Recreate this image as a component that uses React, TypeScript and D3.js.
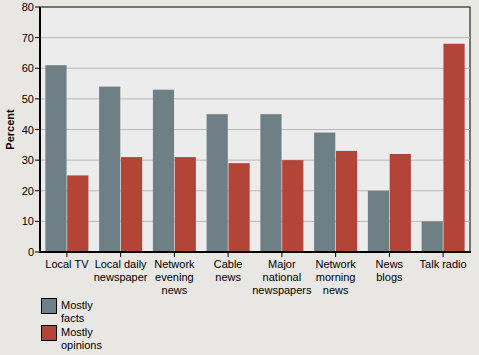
import React from "react";
import * as d3 from "d3";

const categories = [
  ["Local TV"],
  ["Local daily", "newspaper"],
  ["Network", "evening", "news"],
  ["Cable", "news"],
  ["Major", "national", "newspapers"],
  ["Network", "morning", "news"],
  ["News", "blogs"],
  ["Talk radio"],
];
const mostlyFacts = [61, 54, 53, 45, 45, 39, 20, 10];
const mostlyOpinions = [25, 31, 31, 29, 30, 33, 32, 68];
const yTicks = [0, 10, 20, 30, 40, 50, 60, 70, 80];
const seriesNames = [["Mostly", "facts"], ["Mostly", "opinions"]];
const colors = ["#6E7F86", "#B34438"];

export default function App() {
  const W = 479, H = 355;
  const left = 40, right = 470, top = 7, bottom = 252;
  const font = "'Liberation Sans', Arial, sans-serif";
  const idx = categories.map((_, i) => String(i));
  const x = d3.scaleBand().domain(idx).range([left, right]).paddingInner(0.2).paddingOuter(0.1);
  const x1 = d3.scaleBand().domain(["0", "1"]).range([0, x.bandwidth()]).paddingInner(0.03);
  const y = d3.scaleLinear().domain([0, 80]).range([bottom, top]);
  const series = [mostlyFacts, mostlyOpinions];
  const step = (right - left) / categories.length;

  return (
    <svg width={W} height={H} style={{ position: "absolute", left: 0, top: 0, background: "#E9E7E3" }}>
      <rect x={0} y={0} width={W} height={H} fill="#E9E7E3" />
      <rect x={left} y={top} width={right - left} height={bottom - top} fill="#ECECEC" stroke="#000" strokeWidth={1} />
      {yTicks.map((t) => (
        <g key={t}>
          {t > 0 && t < 80 && (
            <line x1={left} x2={right} y1={y(t)} y2={y(t)} stroke="#B8B8B8" strokeWidth={1} />
          )}
          <line x1={left - 5} x2={left} y1={y(t)} y2={y(t)} stroke="#000" />
          <text x={left - 6} y={y(t) + 4} textAnchor="end" fontFamily={font} fontSize={11} fill="#000">
            {t}
          </text>
        </g>
      ))}
      {categories.map((c, i) => (
        <g key={i}>
          {series.map((s, j) => (
            <rect
              key={j}
              x={(x(String(i)) as number) + (x1(String(j)) as number)}
              y={y(s[i])}
              width={x1.bandwidth()}
              height={bottom - y(s[i])}
              fill={colors[j]}
            />
          ))}
          <line
            x1={left + step * (i + 0.5)}
            x2={left + step * (i + 0.5)}
            y1={bottom}
            y2={bottom + 5}
            stroke="#000"
          />
          <text textAnchor="middle" fontFamily={font} fontSize={11} fill="#000">
            {c.map((l, k) => (
              <tspan key={k} x={left + step * (i + 0.5)} y={268 + k * 13}>
                {l}
              </tspan>
            ))}
          </text>
        </g>
      ))}
      <line x1={left} x2={left} y1={top} y2={bottom + 1} stroke="#000" strokeWidth={2} />
      <line x1={left - 1} x2={right + 1} y1={bottom} y2={bottom} stroke="#000" strokeWidth={2} />
      <text
        transform={`translate(14,${(top + bottom) / 2}) rotate(-90)`}
        textAnchor="middle"
        fontFamily={font}
        fontSize={11}
        fontWeight="bold"
        fill="#000"
      >
        Percent
      </text>
      {seriesNames.map((n, j) => (
        <g key={j}>
          <rect x={41.5} y={298.5 + j * 27} width={15} height={15} fill={colors[j]} stroke="#000" />
          <text fontFamily={font} fontSize={11} fill="#000">
            {n.map((l, k) => (
              <tspan key={k} x={61} y={309 + j * 27 + k * 13}>
                {l}
              </tspan>
            ))}
          </text>
        </g>
      ))}
    </svg>
  );
}
